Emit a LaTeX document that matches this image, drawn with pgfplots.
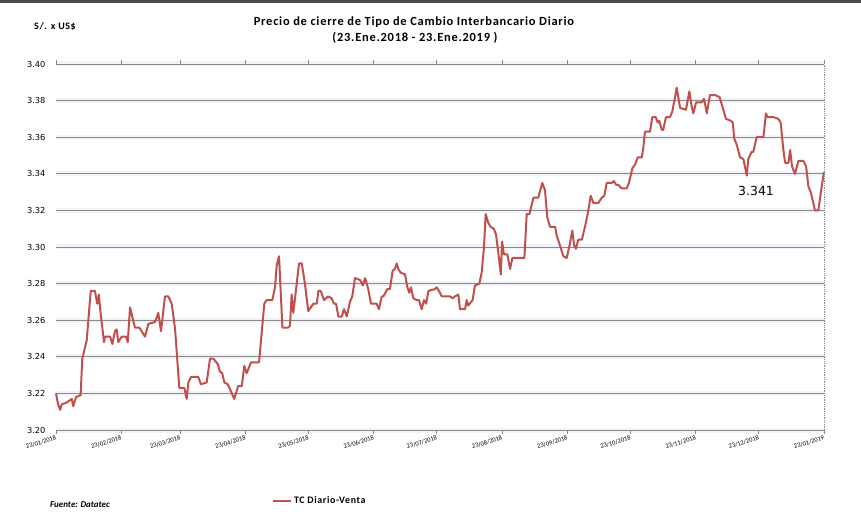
\documentclass[border=0pt]{standalone}
\usepackage{fontspec}
\setmainfont{Carlito}
\newfontfamily\dejavu{DejaVu Sans}
\newfontfamily\ancho[LetterSpace=6]{Carlito}
\usepackage{pgfplots}
\pgfplotsset{compat=1.18}
\definecolor{serie}{HTML}{C0504D}
\definecolor{rejilla}{HTML}{8A8A8A}
\definecolor{halo}{RGB}{241,243,248}

\begin{document}
\begin{tikzpicture}
\begin{axis}[
  scale only axis, width=768bp, height=366bp,
  xmin=0, xmax=365, ymin=3.20, ymax=3.40,
  axis line style={draw=none},
  xtick={0,31,59,90,120,151,181,212,243,273,304,334,365},
  xticklabels={23/01/2018,23/02/2018,23/03/2018,23/04/2018,23/05/2018,23/06/2018,23/07/2018,23/08/2018,23/09/2018,23/10/2018,23/11/2018,23/12/2018,23/01/2019},
  xticklabel style={font=\fontsize{6.5}{7}\selectfont, rotate=17, anchor=north east, inner sep=1bp},
  xtick style={draw=rejilla, line width=0.8bp},
  tick align=outside, major tick length=4bp,
  ytick={3.20,3.22,...,3.405},
  yticklabel style={font=\dejavu\fontsize{8.3}{9}\selectfont, xshift=-3bp},
  ytick style={draw=none},
  /pgf/number format/.cd, fixed, fixed zerofill, precision=2, assume math mode=true,
  /pgfplots/.cd,
  ymajorgrids,
  major grid style={draw=rejilla, line width=0.9bp, preaction={draw=halo, line width=5bp}},
  legend style={at={(0.281,-0.194)}, anchor=west, draw=none, fill=none,
    font=\ancho\bfseries\fontsize{10}{12}\selectfont, inner sep=0pt},
  legend image code/.code={\draw[serie, line width=2bp] (0bp,0bp) -- (18bp,0bp);},
  clip=false,
]
\addplot[serie, line width=2bp, line join=round] coordinates {
(0,3.220)(1,3.214)(2,3.211)(2.7,3.214)(5.1,3.215)(7.5,3.217)(8.2,3.213)(9.5,3.218)
(11.7,3.219)(12.5,3.239)(14.6,3.249)(16.5,3.276)(18.5,3.276)(19.6,3.269)(20.4,3.274)
(20.9,3.267)(22.8,3.248)(23.3,3.251)(25.7,3.251)(26.8,3.247)(28.0,3.254)(28.8,3.255)
(29.6,3.248)(31.2,3.251)(33.3,3.251)(34.1,3.248)(35.2,3.267)(37.5,3.256)(39.6,3.256)
(42.3,3.251)(43.9,3.258)(47.1,3.259)(48.6,3.264)(49.9,3.254)(51.8,3.273)(53.4,3.273)
(55.0,3.269)(56.6,3.255)(58.6,3.223)(61.0,3.223)(62.1,3.217)(62.9,3.226)(64.2,3.229)
(67.6,3.229)(68.9,3.225)(71.6,3.226)(73.2,3.239)(74.8,3.239)(76.9,3.236)(77.9,3.232)
(79.0,3.231)(80.0,3.226)(81.6,3.225)(83.2,3.221)(84.7,3.217)(86.6,3.224)(88.3,3.224)
(89.5,3.235)(90.6,3.231)(92.7,3.237)(96.5,3.237)(99.0,3.269)(100.1,3.271)(102.8,3.271)
(104.1,3.278)(104.9,3.290)(106.0,3.295)(107.6,3.256)(110.4,3.256)(111.2,3.257)
(112.0,3.274)(112.8,3.264)(115.5,3.291)(116.8,3.291)(118.3,3.280)(119.9,3.265)
(122.3,3.269)(123.9,3.269)(124.7,3.276)(125.8,3.276)(127.4,3.271)(129.4,3.273)
(131.0,3.272)(132.1,3.269)(133.1,3.269)(134.2,3.262)(135.8,3.262)(136.9,3.266)
(138.2,3.262)(139.7,3.270)(140.8,3.273)(142.1,3.283)(144.5,3.282)(145.8,3.279)
(146.9,3.283)(148.4,3.277)(149.7,3.269)(152.4,3.269)(153.5,3.266)(154.8,3.273)
(155.6,3.273)(157.5,3.277)(158.7,3.277)(160.0,3.287)(161.1,3.288)(161.9,3.291)
(162.7,3.288)(163.8,3.286)(165.9,3.285)(167.0,3.278)(167.9,3.275)(168.7,3.278)
(169.8,3.272)(171.4,3.271)(172.5,3.271)(173.8,3.266)(174.9,3.271)(175.9,3.269)
(177.0,3.276)(180.1,3.277)(180.9,3.278)(182.5,3.275)(183.3,3.273)(187.3,3.273)
(188.5,3.272)(189.6,3.273)(191.2,3.274)(192.0,3.266)(194.4,3.266)(195.2,3.271)
(195.9,3.268)(198.0,3.271)(199.1,3.279)(201.2,3.280)(202.3,3.286)(203.4,3.300)
(204.2,3.318)(205.5,3.313)(206.6,3.311)(208.0,3.310)(209.1,3.307)(210.2,3.297)
(211.4,3.285)(212.0,3.303)(212.9,3.296)(214.5,3.296)(215.8,3.288)(216.9,3.294)
(222.6,3.294)(223.7,3.318)(225.0,3.318)(226.9,3.327)(229.2,3.327)(231.1,3.335)
(232.4,3.331)(233.5,3.316)(234.8,3.311)(237.2,3.311)(238.0,3.306)(239.2,3.302)
(241.1,3.295)(242.7,3.294)(243.9,3.300)(245.4,3.309)(246.2,3.301)(247.1,3.299)
(248.2,3.304)(249.9,3.304)(251.4,3.311)(253.0,3.320)(254.1,3.328)(255.4,3.324)
(257.7,3.324)(259.4,3.327)(260.6,3.328)(261.7,3.335)(264.1,3.335)(265.2,3.336)
(266.2,3.334)(267.2,3.334)(268.9,3.332)(271.2,3.332)(272.3,3.335)(273.9,3.343)
(275.2,3.345)(276.5,3.349)(278.4,3.349)(279.1,3.354)(279.9,3.363)(282.3,3.363)
(283.4,3.371)(285.0,3.371)(286.0,3.368)(286.7,3.369)(287.9,3.364)(288.6,3.364)
(289.9,3.371)(291.8,3.371)(292.9,3.374)(293.9,3.380)(295.0,3.387)(296.6,3.376)
(299.4,3.375)(301.0,3.385)(302.1,3.377)(302.9,3.373)(304.2,3.379)(306.9,3.379)
(308.0,3.381)(309.3,3.373)(310.8,3.383)(313.2,3.383)(315.3,3.382)(316.4,3.378)
(318.4,3.370)(320.7,3.369)(321.6,3.368)(322.4,3.359)(323.5,3.356)(325.1,3.349)
(326.7,3.348)(328.3,3.339)(329.0,3.348)(330.6,3.352)(331.4,3.352)(333.0,3.360)
(336.2,3.360)(337.4,3.373)(338.1,3.371)(340.9,3.371)(343.3,3.370)(344.4,3.368)
(345.7,3.353)(346.5,3.346)(348.1,3.346)(348.9,3.353)(349.8,3.344)(351.2,3.340)
(352.8,3.347)(355.2,3.347)(356.5,3.344)(357.6,3.333)(358.7,3.330)(360.7,3.320)
(362.3,3.320)(363.9,3.333)(365.0,3.341)
};
\addlegendentry{TC Diario-Venta}
\draw[rejilla, line width=0.9bp] (axis cs:0,3.20) -- (axis cs:365,3.20);
\draw[rejilla, line width=0.8bp, densely dotted] (axis cs:365,3.20) -- (axis cs:365,3.40);
\node[font=\dejavu\fontsize{12.5}{14}\selectfont] at (axis cs:332.7,3.3306) {3.341};
\end{axis}

\path (-56bp,-80bp) rectangle (805bp,430bp);
\fill[black!70] (-56bp,427bp) rectangle (805bp,430bp);
\node[font=\ancho\bfseries\fontsize{12.5}{14}\selectfont] at (358bp,408bp) {Precio de cierre de Tipo de Cambio Interbancario Diario};
\node[font=\ancho\bfseries\fontsize{12.5}{14}\selectfont] at (359bp,392bp) {(23.Ene.2018 - 23.Ene.2019 )};
\node[font=\ancho\bfseries\fontsize{10}{12}\selectfont] at (-1bp,403bp) {S/. x US\$};
\node[font=\bfseries\itshape\fontsize{9}{11}\selectfont] at (24bp,-75bp) {Fuente: Datatec};
\end{tikzpicture}
\end{document}
